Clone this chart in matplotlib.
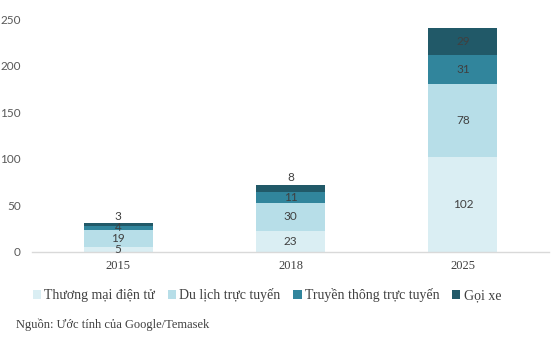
import matplotlib
matplotlib.use("Agg")
import matplotlib.pyplot as plt
import numpy as np

years = ["2015", "2018", "2025"]
series_names = ["Thương mại điện tử", "Du lịch trực tuyến", "Truyền thông trực tuyến", "Gọi xe"]
thuong_mai = [5, 23, 102]
du_lich = [19, 30, 78]
truyen_thong = [4, 11, 31]
goi_xe = [3, 8, 29]
yticks = [0, 50, 100, 150, 200, 250]
source = "Nguồn: Ước tính của Google/Temasek"

colors = ["#DAEEF3", "#B7DEE8", "#31859C", "#215968"]
data = [thuong_mai, du_lich, truyen_thong, goi_xe]

fig = plt.figure(figsize=(5.59, 3.38), dpi=100)
ax = fig.add_axes([32/559, 1-252/338, (549-32)/559, (252-19)/338])

x = np.arange(len(years))
bottom = np.zeros(len(years))
label_color = "#404040"
sans = ["Lato", "DejaVu Sans"]
serif = ["Liberation Serif", "DejaVu Serif"]
for si, (vals, c, name) in enumerate(zip(data, colors, series_names)):
    vals = np.array(vals, dtype=float)
    ax.bar(x, vals, width=0.4, bottom=bottom, color=c, label=name, linewidth=0)
    for i, v in enumerate(vals):
        if si == len(data) - 1 and v < 10:
            ypos = bottom[i] + v + 7.5
        else:
            ypos = bottom[i] + v / 2
        ax.text(x[i], ypos, f"{int(v)}", ha="center", va="center",
                fontsize=8.5, color=label_color, family=sans)
    bottom += vals

ax.set_xlim(-0.5, 2.5)
ax.set_ylim(0, 250)
ax.set_yticks(yticks)
ax.set_yticklabels([str(t) for t in yticks], family=sans, fontsize=8.5, color="#595959")
ax.set_xticks(x)
ax.set_xticklabels(years, family=serif, fontsize=9, color="#404040")
ax.tick_params(axis="both", length=0)
ax.tick_params(axis="y", pad=8)
ax.tick_params(axis="x", pad=6)
for s in ["top", "right", "left"]:
    ax.spines[s].set_visible(False)
ax.spines["bottom"].set_color("#D9D9D9")
ax.spines["bottom"].set_linewidth(1)

fig.legend(loc="center", bbox_to_anchor=(267/559, 1-295/338), ncol=4, frameon=False,
           prop={"family": serif, "size": 10}, handlelength=0.6, handleheight=0.6,
           handletextpad=0.25, columnspacing=0.9, labelcolor="#404040")

fig.text(16/559, 1-325/338, source, ha="left", va="center", family=serif,
         fontsize=9, color="#404040")

fig.savefig("out.png", dpi=100)
